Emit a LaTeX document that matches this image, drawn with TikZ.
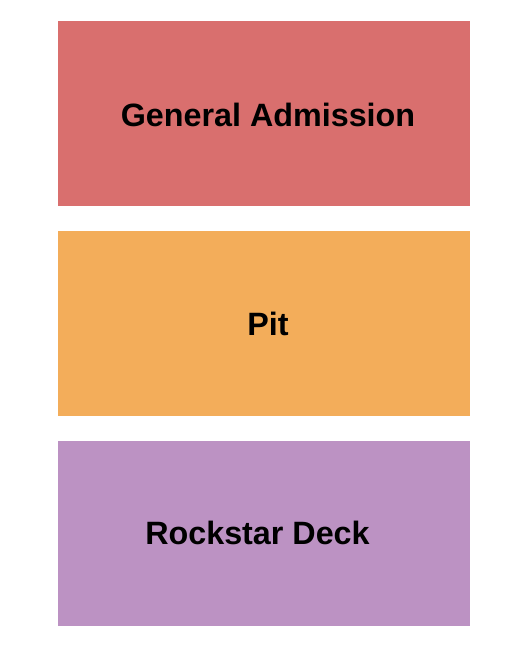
\documentclass[tikz,border=0pt]{standalone}
\usepackage{fontspec}
\setmainfont{Liberation Sans}
\usetikzlibrary{positioning}

\begin{document}
\begin{tikzpicture}[x=1pt,y=-1pt,%%
  sectionStyle/.style={draw=none},%%
  labelStyle/.style={font=\fontsize{32.3}{37}\selectfont\bfseries,text=black}%%
]
%%
\definecolor{gaColor}{HTML}{D96F6E}
\definecolor{pitColor}{HTML}{F3AD5A}
\definecolor{deckColor}{HTML}{BC92C3}
%%
\pgfmathsetmacro{\xstart}{58}   %% left edge of sections
\pgfmathsetmacro{\xend}{470}    %% right edge of sections
\pgfmathsetmacro{\bh}{185}      %% height of a section
\pgfmathsetmacro{\gap}{25}      %% gap between sections
\pgfmathsetmacro{\ystart}{21}
%%
%% Bounding box of the picture.
\useasboundingbox[fill=white] (0,0) rectangle (525,650);
%%
%% Coordinates for the sections.
\coordinate (gaUpperLeft) at (\xstart,\ystart);
\coordinate (gaLowerRight) at (\xend,\ystart+\bh);
\coordinate (pitUpperLeft) at (\xstart,\ystart+\bh+\gap);
\coordinate (pitLowerRight) at (\xend,\ystart+2*\bh+\gap);
\coordinate (deckUpperLeft) at (\xstart,\ystart+2*\bh+2*\gap);
\coordinate (deckLowerRight) at (\xend,\ystart+3*\bh+2*\gap);
%%
%% Draw the sections.
\fill[sectionStyle,gaColor] (gaUpperLeft) rectangle (gaLowerRight);
\fill[sectionStyle,pitColor] (pitUpperLeft) rectangle (pitLowerRight);
\fill[sectionStyle,deckColor] (deckUpperLeft) rectangle (deckLowerRight);
%%
%% Label the sections.
\node[labelStyle] (gaLabel) at (268,115) {General Admission};
\node[labelStyle] (pitLabel) at (268,324) {Pit};
\node[labelStyle] (deckLabel) at (257.5,533) {Rockstar Deck};
\end{tikzpicture}
\end{document}
